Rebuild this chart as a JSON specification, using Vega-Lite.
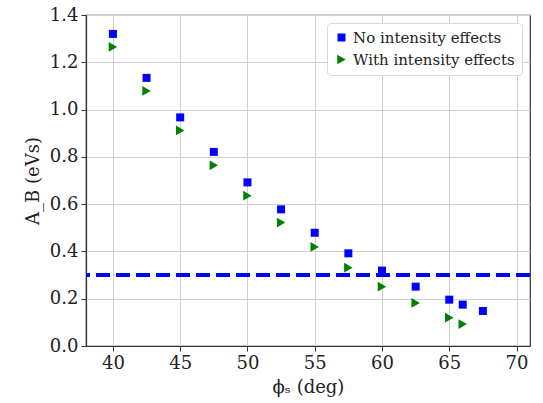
{
  "$schema": "https://vega.github.io/schema/vega-lite/v6.json",
  "autosize": {"type": "none"},
  "padding": {"left": 86, "top": 15, "right": 13, "bottom": 57},
  "width": 444,
  "height": 331,
  "background": "white",
  "config": {
    "view": {"stroke": "#333333", "strokeWidth": 1.2},
    "font": "DejaVu Serif",
    "axis": {
      "labelFont": "DejaVu Serif",
      "titleFont": "DejaVu Serif",
      "labelFontSize": 18,
      "titleFontSize": 18,
      "titleFontWeight": "normal",
      "labelColor": "#222222",
      "titleColor": "#222222",
      "gridColor": "#d0d0d0",
      "gridWidth": 1,
      "domainColor": "#333333",
      "domainWidth": 1.2,
      "tickColor": "#333333",
      "tickSize": 5,
      "labelPadding": 3
    },
    "legend": {
      "labelFont": "DejaVu Serif",
      "labelFontSize": 15,
      "labelColor": "#222222",
      "labelLimit": 400
    }
  },
  "data": {
    "values": [
      {"phi": 40, "A": 1.320, "series": "No intensity effects"},
      {"phi": 42.5, "A": 1.134, "series": "No intensity effects"},
      {"phi": 45, "A": 0.967, "series": "No intensity effects"},
      {"phi": 47.5, "A": 0.821, "series": "No intensity effects"},
      {"phi": 50, "A": 0.692, "series": "No intensity effects"},
      {"phi": 52.5, "A": 0.578, "series": "No intensity effects"},
      {"phi": 55, "A": 0.479, "series": "No intensity effects"},
      {"phi": 57.5, "A": 0.392, "series": "No intensity effects"},
      {"phi": 60, "A": 0.319, "series": "No intensity effects"},
      {"phi": 62.5, "A": 0.251, "series": "No intensity effects"},
      {"phi": 65, "A": 0.196, "series": "No intensity effects"},
      {"phi": 66, "A": 0.175, "series": "No intensity effects"},
      {"phi": 67.5, "A": 0.148, "series": "No intensity effects"},
      {"phi": 40, "A": 1.265, "series": "With intensity effects"},
      {"phi": 42.5, "A": 1.079, "series": "With intensity effects"},
      {"phi": 45, "A": 0.912, "series": "With intensity effects"},
      {"phi": 47.5, "A": 0.764, "series": "With intensity effects"},
      {"phi": 50, "A": 0.636, "series": "With intensity effects"},
      {"phi": 52.5, "A": 0.522, "series": "With intensity effects"},
      {"phi": 55, "A": 0.419, "series": "With intensity effects"},
      {"phi": 57.5, "A": 0.331, "series": "With intensity effects"},
      {"phi": 60, "A": 0.251, "series": "With intensity effects"},
      {"phi": 62.5, "A": 0.182, "series": "With intensity effects"},
      {"phi": 65, "A": 0.120, "series": "With intensity effects"},
      {"phi": 66, "A": 0.093, "series": "With intensity effects"}
    ]
  },
  "layer": [
    {
      "mark": {"type": "point", "filled": true, "opacity": 1},
      "encoding": {
        "x": {
          "field": "phi", "type": "quantitative",
          "scale": {"domain": [38, 71], "nice": false, "zero": false},
          "axis": {"values": [40, 45, 50, 55, 60, 65, 70], "title": "ϕₛ (deg)", "titlePadding": 6}
        },
        "y": {
          "field": "A", "type": "quantitative",
          "scale": {"domain": [0, 1.4], "nice": false},
          "axis": {"values": [0, 0.2, 0.4, 0.6, 0.8, 1.0, 1.2, 1.4], "format": ".1f", "title": "A_B (eVs)", "titlePadding": 7}
        },
        "color": {
          "field": "series", "type": "nominal",
          "scale": {"domain": ["No intensity effects", "With intensity effects"], "range": ["#0000ff", "#008000"]},
          "legend": {
            "title": null, "orient": "top-right", "offset": 8,
            "fillColor": "white", "strokeColor": "#d8d8d8", "cornerRadius": 4,
            "padding": 7, "rowPadding": 6
          }
        },
        "shape": {
          "field": "series", "type": "nominal",
          "scale": {"domain": ["No intensity effects", "With intensity effects"], "range": ["square", "triangle-right"]}
        },
        "size": {
          "field": "series", "type": "nominal",
          "scale": {"domain": ["No intensity effects", "With intensity effects"], "range": [64, 95]}
        }
      }
    },
    {
      "mark": {"type": "rule", "color": "#0000ff", "strokeWidth": 4, "strokeDash": [14, 6]},
      "encoding": {"y": {"datum": 0.3}}
    }
  ]
}
